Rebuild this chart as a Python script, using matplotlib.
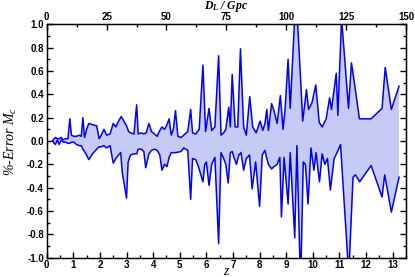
import numpy as np
import matplotlib.pyplot as plt
from matplotlib.ticker import MultipleLocator

plt.rcParams['mathtext.fontset'] = 'custom'
plt.rcParams['mathtext.rm'] = 'Liberation Serif:italic'
plt.rcParams['mathtext.it'] = 'Liberation Serif:italic'
plt.rcParams['mathtext.bf'] = 'Liberation Serif:bold:italic'

# upper envelope of the error band
z_up = [0.22, 0.28, 0.33, 0.40, 0.47, 0.55, 0.62, 0.72, 0.80, 0.87, 0.93, 1.02,
        1.12, 1.22, 1.30, 1.36, 1.42, 1.50, 1.58, 1.72, 1.88, 1.97, 2.05, 2.15,
        2.25, 2.38, 2.50, 2.60, 2.70, 2.80, 2.90, 3.00, 3.08, 3.15, 3.28, 3.38,
        3.44, 3.56, 3.65, 3.74, 3.84, 3.94, 4.05, 4.15, 4.25, 4.33, 4.43, 4.52,
        4.60, 4.68, 4.76, 4.84, 4.93, 5.05, 5.15, 5.30, 5.41, 5.48, 5.60, 5.73,
        5.87, 5.97, 6.10, 6.20, 6.32, 6.46, 6.55, 6.65, 6.73, 6.84, 6.90, 6.97,
        7.08, 7.18, 7.28, 7.40, 7.50, 7.63, 7.74, 7.87, 8.02, 8.12, 8.20, 8.27,
        8.33, 8.45, 8.54, 8.66, 8.78, 8.88, 8.96, 9.07, 9.15, 9.36, 9.46, 9.62,
        9.76, 9.84, 9.97, 10.11, 10.24, 10.35, 10.50, 10.63, 10.70, 10.88, 10.94,
        11.08, 11.34, 11.45, 11.58, 11.75, 12.19, 12.60, 12.72, 12.95, 13.24]
err_up = [0.00, 0.02, 0.03, 0.02, 0.02, 0.03, 0.01, 0.02, 0.02, 0.19, 0.05, 0.04,
          0.04, 0.05, 0.04, 0.20, 0.03, 0.10, 0.15, 0.14, 0.13, 0.02, 0.05, 0.10,
          0.05, 0.06, 0.15, 0.12, 0.17, 0.21, 0.17, 0.13, 0.08, 0.07, 0.06, 0.31,
          0.06, 0.07, 0.06, 0.07, 0.15, 0.08, 0.06, 0.04, 0.09, 0.12, 0.10, 0.14,
          0.19, 0.05, 0.10, 0.26, 0.04, 0.03, 0.05, 0.08, 0.27, 0.07, 0.06, 0.10,
          0.65, 0.08, 0.28, 0.09, 0.12, 0.73, 0.05, 0.07, 0.10, 0.29, 0.12, 0.57,
          0.12, 0.12, 0.79, 0.12, 0.05, 0.38, 0.12, 0.07, 0.17, 0.09, 0.15, 0.27,
          0.09, 0.32, 0.26, 0.15, 0.39, 0.10, 0.28, 0.70, 0.28, 1.25, 0.88, 0.17,
          0.44, 0.27, 0.33, 0.48, 0.16, 0.12, 0.19, 0.37, 0.27, 0.58, 0.22,
          1.05, 0.28, 0.67, 0.47, 0.19, 0.19, 0.28, 0.63, 0.27, 0.47]

# lower envelope of the error band
z_lo = [0.22, 0.28, 0.33, 0.40, 0.47, 0.55, 0.62, 0.72, 0.80, 0.87, 0.93, 1.02,
        1.12, 1.22, 1.30, 1.36, 1.42, 1.50, 1.58, 1.72, 1.88, 1.97, 2.05, 2.15,
        2.25, 2.38, 2.50, 2.60, 2.70, 2.78, 2.84, 3.00, 3.06, 3.15, 3.28, 3.38,
        3.44, 3.56, 3.65, 3.72, 3.84, 3.94, 4.05, 4.15, 4.25, 4.33, 4.43, 4.52,
        4.60, 4.68, 4.84, 5.05, 5.15, 5.30, 5.41, 5.48, 5.60, 5.70, 5.78, 5.87,
        5.94, 6.00, 6.10, 6.20, 6.32, 6.46, 6.55, 6.65, 6.73, 6.82, 6.90, 6.97,
        7.05, 7.13, 7.22, 7.30, 7.40, 7.50, 7.62, 7.72, 7.85, 8.00, 8.10, 8.20,
        8.27, 8.33, 8.45, 8.54, 8.66, 8.76, 8.82, 8.92, 9.07, 9.15, 9.32, 9.40,
        9.54, 9.64, 9.72, 9.82, 9.93, 10.04, 10.12, 10.25, 10.35, 10.45, 10.55,
        10.66, 10.80, 10.93, 11.04, 11.35, 11.51, 11.60, 11.76, 12.19, 12.60,
        12.70, 12.95, 13.24]
err_lo = [0.00, -0.02, -0.03, 0.01, -0.03, 0.01, -0.01, -0.01, -0.02, -0.02, -0.01, -0.01,
          -0.03, -0.04, -0.04, -0.07, -0.09, -0.12, -0.16, -0.11, -0.07, -0.05, -0.05, -0.04,
          -0.06, -0.04, -0.19, -0.15, -0.12, -0.10, -0.27, -0.49, -0.18, -0.12, -0.11, -0.11,
          -0.07, -0.07, -0.09, -0.23, -0.11, -0.08, -0.07, -0.08, -0.12, -0.25, -0.20, -0.22,
          -0.14, -0.10, -0.10, -0.09, -0.06, -0.08, -0.50, -0.15, -0.16, -0.22, -0.28, -0.35,
          -0.20, -0.18, -0.38, -0.20, -0.14, -0.88, -0.10, -0.15, -0.20, -0.36, -0.10, -0.09,
          -0.15, -0.20, -0.12, -0.10, -0.25, -0.15, -0.12, -0.41, -0.18, -0.56, -0.12, -0.08,
          -0.15, -0.20, -0.24, -0.22, -0.20, -0.14, -0.65, -0.14, -0.54, -0.10, -0.83, -0.04,
          -1.25, -0.18, -0.20, -0.54, -0.06, -0.25, -0.10, -0.35, -0.11, -0.20, -0.15,
          -0.42, -0.15, -0.09, -0.03, -1.15, -0.31, -0.29, -0.35, -0.21, -0.48,
          -0.29, -0.61, -0.31]

fig = plt.figure(figsize=(4.15, 2.77), dpi=100)
ax = fig.add_axes([0.1125, 0.0697, 0.8658, 0.8426])

# shaded band between the two curves
poly_x = np.concatenate([z_up, z_lo[::-1]])
poly_y = np.concatenate([err_up, err_lo[::-1]])
ax.fill(poly_x, poly_y, facecolor='#c6cbf5', edgecolor='none')
ax.plot(z_up, err_up, color='#0000ff', lw=1.1)
ax.plot(z_lo, err_lo, color='#0000ff', lw=1.1)

ax.set_xlim(0, 13.5)
ax.set_ylim(-1, 1)
ax.xaxis.set_major_locator(MultipleLocator(1))
ax.xaxis.set_minor_locator(MultipleLocator(0.5))
ax.yaxis.set_major_locator(MultipleLocator(0.2))
ax.yaxis.set_minor_locator(MultipleLocator(0.1))
ax.yaxis.set_major_formatter(plt.FuncFormatter(lambda v, p: '%.1f' % v))
ax.tick_params(which='both', direction='in', right=True, labelsize=7, pad=2)
ax.tick_params(which='major', length=4, width=1.0)
ax.tick_params(which='minor', length=2, width=1.0)
for lab in ax.get_xticklabels() + ax.get_yticklabels():
    lab.set_fontfamily('Liberation Sans')
    lab.set_fontweight('bold')
for s in ax.spines.values():
    s.set_linewidth(1.0)

# top axis: luminosity distance
ax2 = ax.twiny()
ax2.set_xlim(0, 150)
ax2.xaxis.set_major_locator(MultipleLocator(25))
ax2.xaxis.set_minor_locator(MultipleLocator(12.5))
ax2.tick_params(which='both', direction='in', labelsize=7, pad=1.5)
ax2.tick_params(which='major', length=4, width=1.0)
ax2.tick_params(which='minor', length=2, width=1.0)
for lab in ax2.get_xticklabels():
    lab.set_fontfamily('Liberation Sans')
    lab.set_fontweight('bold')

# axis titles
fig.text(226 / 415, 1 - 8.5 / 277, r'$\mathbf{D_L\ /\ Gpc}$', fontsize=8.5,
         ha='center', va='baseline')
fig.text(226 / 415, 1 - 271.5 / 277, 'z', fontfamily='Liberation Serif',
         style='italic', fontsize=10, ha='center', va='center')
fig.text(11 / 415, 0.5 + (138.5 - 141) / 277, r'%-Error $M_c$',
         fontfamily='Liberation Serif', style='italic', fontsize=10,
         rotation=90, ha='center', va='center')

fig.savefig('out.png', dpi=100)
